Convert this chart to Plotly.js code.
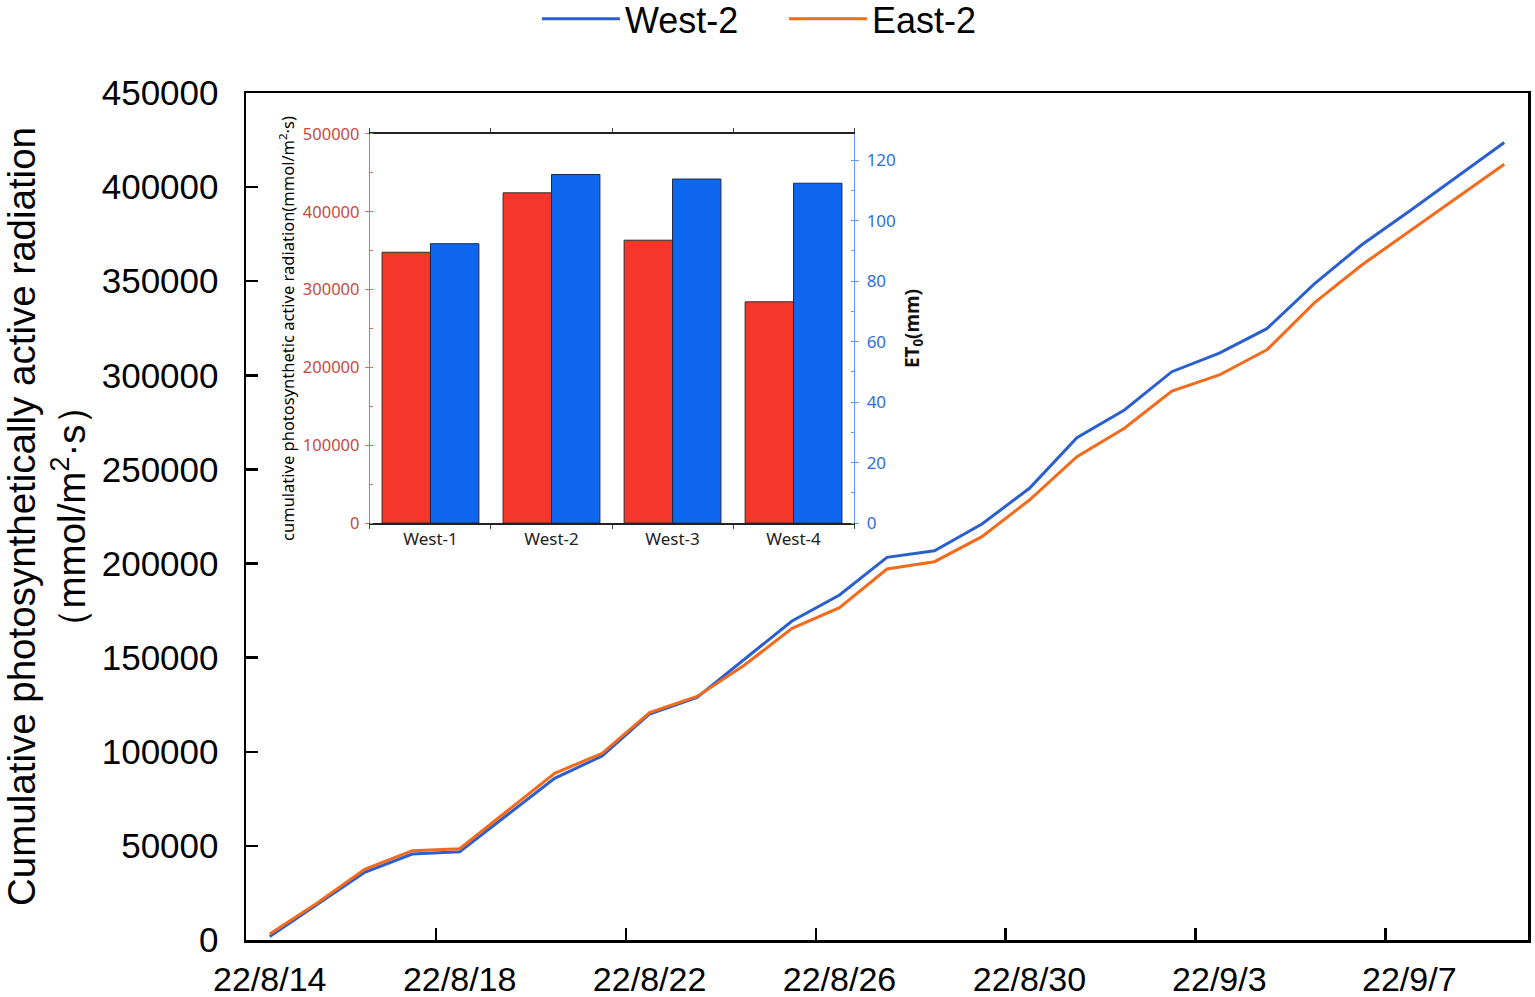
<!DOCTYPE html>
<html>
<head>
<meta charset="utf-8">
<script src="https://cdn.plot.ly/plotly-3.0.1.min.js"></script>
<style>html,body{margin:0;padding:0;background:#fff;}#chart{width:1535px;height:997px;}</style>
</head>
<body>
<div id="chart"></div>
<script>
// ---- data ----
var dates = ["22/8/14","22/8/15","22/8/16","22/8/17","22/8/18","22/8/19","22/8/20","22/8/21","22/8/22",
  "22/8/23","22/8/24","22/8/25","22/8/26","22/8/27","22/8/28","22/8/29","22/8/30","22/8/31","22/9/1",
  "22/9/2","22/9/3","22/9/4","22/9/5","22/9/6","22/9/7","22/9/8","22/9/9"];
var tickDates = ["22/8/14","22/8/18","22/8/22","22/8/26","22/8/30","22/9/3","22/9/7"];
var west2 = [1800,18970,35970,45690,46910,66410,85910,97760,120070,128940,149130,169480,183290,203320,
  206830,221020,239980,266870,281580,301930,311760,324780,348630,369350,387150,405370,423700];
var east2 = [3190,19660,37560,47440,48510,68700,88570,99190,120760,129370,146100,165600,176550,197110,
  200990,214270,233770,256780,271860,291680,300180,313510,338480,358620,376470,394270,412120];
var sites = ["West-1","West-2","West-3","West-4"];
var sitePAR = [348000,424400,363500,284300];
var siteET0 = [92.4,115.3,113.8,112.4];

var mainFont = "Liberation Sans, Arial, sans-serif";
var insetFont = "Noto Sans, Open Sans, sans-serif";

// tick marks sit half a category before each labelled date (category boundaries)
var dayIndex = dates.map(function (d, i) { return i; });
var boundaryTicks = tickDates.slice(1).map(function (d) { return dates.indexOf(d) - 0.5; });

var traces = [
  {x: dates, y: west2, type: "scatter", mode: "lines", name: "West-2",
   line: {color: "#2b5fcd", width: 3}, xaxis: "x", yaxis: "y"},
  {x: dates, y: east2, type: "scatter", mode: "lines", name: "East-2",
   line: {color: "#f46a1b", width: 3}, xaxis: "x", yaxis: "y"},
  // invisible copy on the tick-only overlay axis so that axis gets drawn
  {x: dayIndex, y: west2, type: "scatter", mode: "lines", opacity: 0, showlegend: false,
   hoverinfo: "skip", line: {width: 0}, xaxis: "x3", yaxis: "y"},
  {x: sites, y: sitePAR, type: "bar", xaxis: "x2", yaxis: "y2", showlegend: false,
   width: 0.4, offset: -0.4, marker: {color: "#f4372a", line: {color: "#3a2a2a", width: 1}}},
  {x: sites, y: siteET0, type: "bar", xaxis: "x2", yaxis: "y3", showlegend: false,
   width: 0.4, offset: 0, marker: {color: "#0f67f0", line: {color: "#1a2a4a", width: 1}}}
];

var layout = {
  width: 1535, height: 997,
  margin: {l: 246, r: 7, t: 93, b: 57, autoexpand: false},
  paper_bgcolor: "#fff", plot_bgcolor: "#fff",
  font: {family: mainFont, color: "#000"},
  showlegend: true,
  legend: {orientation: "h", xref: "container", yref: "container", x: 0.5107, xanchor: "center",
    y: 0.981, yanchor: "middle", font: {size: 36, family: mainFont, color: "#000"},
    itemwidth: 78, entrywidth: 154, bgcolor: "rgba(0,0,0,0)"},
  xaxis: {type: "category", categoryorder: "array", categoryarray: dates,
    range: [-0.5, 26.5], tickmode: "array", tickvals: tickDates, ticktext: tickDates, tickangle: 0,
    ticks: "", showline: true, linecolor: "#000", linewidth: 2.5, mirror: true, showgrid: false,
    zeroline: false, tickfont: {size: 34, family: mainFont}, ticklabelstandoff: 8, automargin: false},
  xaxis3: {overlaying: "x", anchor: "y", side: "bottom", range: [-0.5, 26.5], tickmode: "array",
    tickvals: boundaryTicks, showticklabels: false, ticks: "inside", ticklen: 12, tickwidth: 2.5,
    tickcolor: "#000", showline: false, showgrid: false, zeroline: false, automargin: false},
  yaxis: {range: [0, 450000], dtick: 50000, tickformat: "d", ticks: "inside", ticklen: 12,
    tickwidth: 2.5, tickcolor: "#000", showline: true, linecolor: "#000", linewidth: 2.5, mirror: true,
    showgrid: false, zeroline: false, tickfont: {size: 35, family: mainFont}, ticklabelstandoff: 18,
    automargin: false,
    title: {text: "Cumulative photosynthetically active radiation<br>（mmol/m<sup>2</sup>·s）",
      font: {size: 38.5, family: mainFont, color: "#000"}, standoff: 6}},
  xaxis2: {domain: [0.0967, 0.4743], anchor: "y2", type: "category", showline: true,
    linecolor: "#222", linewidth: 1.5, mirror: "ticks", ticks: "outside", ticklen: 4, tickson: "boundaries",
    tickcolor: "#444", showgrid: false, zeroline: false, tickangle: 0,
    tickfont: {size: 17, family: insetFont, color: "#222"}, automargin: false},
  yaxis2: {domain: [0.4923, 0.9516], anchor: "x2", range: [0, 500000], dtick: 100000, tickformat: "d",
    showline: true, linecolor: "#e9675a", linewidth: 1.2, ticks: "outside", ticklen: 4, tickcolor: "#e9675a",
    minor: {dtick: 50000, ticks: "inside", ticklen: 3, tickcolor: "#e9675a"},
    showgrid: false, zeroline: false, tickfont: {size: 16.5, family: insetFont, color: "#c8493f"},
    ticklabelstandoff: 2, automargin: false,
    title: {text: "cumulative photosynthetic active radiation(mmol/m<sup>2</sup>·s)",
      font: {size: 16.5, family: insetFont, color: "#000"}, standoff: 4}},
  yaxis3: {overlaying: "y2", anchor: "x2", side: "right", range: [0, 128.7], dtick: 20,
    showline: true, linecolor: "#5a9cff", linewidth: 1.2, ticks: "outside", ticklen: 4, tickcolor: "#5a9cff",
    minor: {dtick: 10, ticks: "inside", ticklen: 3, tickcolor: "#5a9cff"},
    showgrid: false, zeroline: false, tickfont: {size: 17, family: insetFont, color: "#2f6fd8"},
    ticklabelstandoff: 4, automargin: false,
    title: {text: "<b>ET<sub>0</sub>(mm)</b>", font: {size: 19, family: insetFont, color: "#111"}, standoff: 10}}
};

Plotly.newPlot("chart", traces, layout, {displayModeBar: false, staticPlot: true});
</script>
</body>
</html>
